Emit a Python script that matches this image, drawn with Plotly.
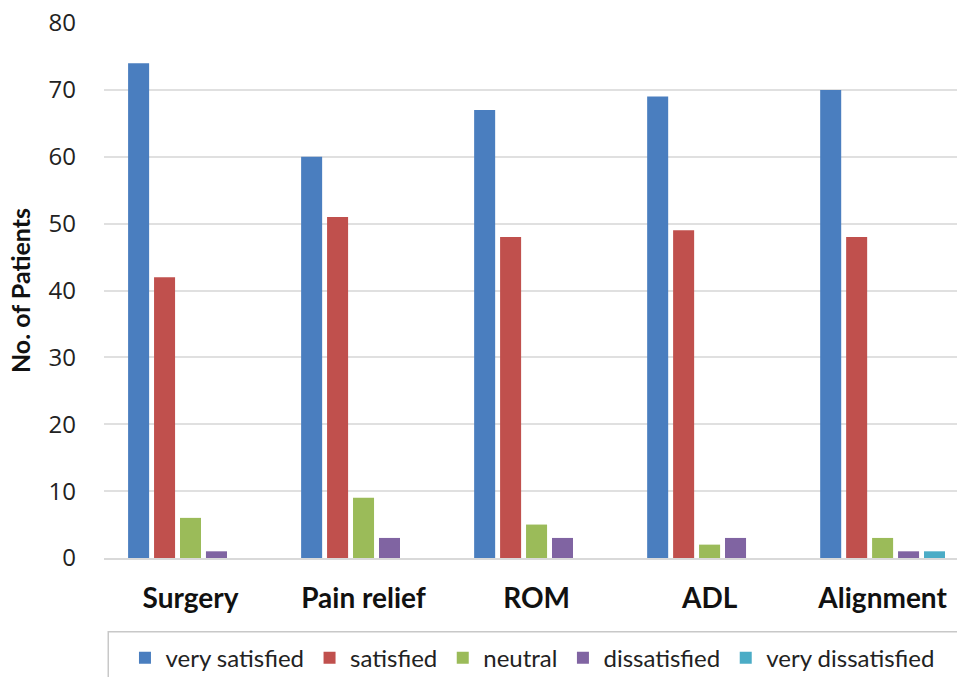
import plotly.graph_objects as go

categories = ["Surgery", "Pain relief", "ROM", "ADL", "Alignment"]
series_names = ["very satisfied", "satisfied", "neutral", "dissatisfied", "very dissatisfied"]
very_satisfied = [74, 60, 67, 69, 70]
satisfied = [42, 51, 48, 49, 48]
neutral = [6, 9, 5, 2, 3]
dissatisfied = [1, 3, 3, 3, 1]
very_dissatisfied = [0, 0, 0, 0, 1]
colors = ["#4A7EBF", "#C0504D", "#9BBB59", "#8064A2", "#4BACC6"]

fig = go.Figure()
for name, vals, col in zip(series_names,
                           [very_satisfied, satisfied, neutral, dissatisfied, very_dissatisfied],
                           colors):
    fig.add_trace(go.Bar(x=categories, y=vals, name=name, marker_color=col,
                         marker_line_width=0))

fig.update_layout(
    width=957, height=677,
    margin=dict(l=104, r=0, t=23, b=119, autoexpand=False),
    paper_bgcolor="white", plot_bgcolor="white",
    barmode="group", bargap=0.25, bargroupgap=0.19,
    font=dict(family="Open Sans", color="#222222"),
    xaxis=dict(range=[-0.5, 4.43], showgrid=False, showline=True, linecolor="#D9D9D9",
               linewidth=2, ticks="", ticklabelstandoff=14, automargin=False,
               tickfont=dict(family="Lato", size=28, color="#111111", weight="bold")),
    yaxis=dict(range=[0, 80], dtick=10, showgrid=True, gridcolor="#E0E0E0", gridwidth=1.5,
               zeroline=False, showline=False, ticks="", ticklabelstandoff=27, automargin=False,
               tickfont=dict(family="Open Sans", size=24, color="#222222"),
               title=dict(text="<b>No. of Patients</b>", standoff=10,
                          font=dict(family="Lato", size=25, color="#111111"))),
    showlegend=True,
    legend=dict(orientation="h", x=0.024, xanchor="left", y=-0.145, yanchor="top",
                font=dict(family="Lato", size=24, color="#222222"),
                itemwidth=31, traceorder="normal", bgcolor="rgba(0,0,0,0)"),
)
fig.add_shape(type="rect", xref="paper", yref="paper", x0=0.005, x1=1.2, y0=-0.25,
              y1=-0.138, line=dict(color="#C8C8C8", width=1.5))

fig.write_html("out.html")
